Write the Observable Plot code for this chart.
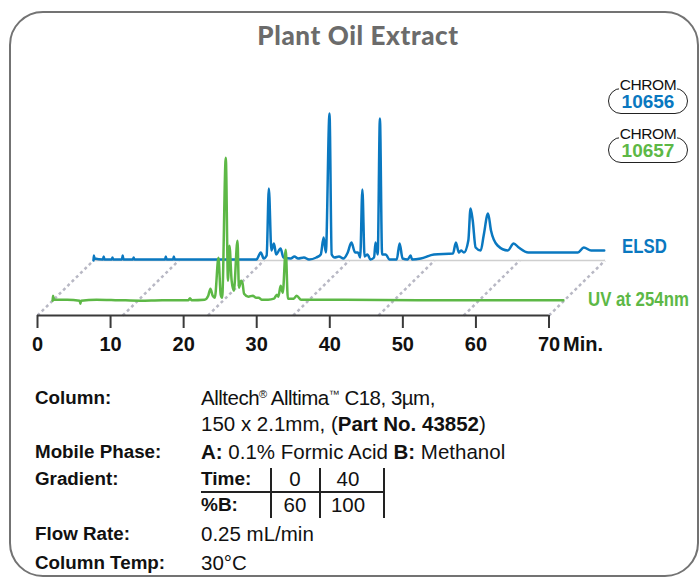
<!DOCTYPE html>
<html>
<head>
<meta charset="utf-8">
<script src="https://cdn.jsdelivr.net/npm/d3@7"></script>
<script src="https://cdn.jsdelivr.net/npm/@observablehq/plot@0.6"></script>
<style>
  html, body { margin: 0; padding: 0; background: #fff; }
  #wrap { position: relative; width: 700px; height: 579px; overflow: hidden; background: #fff; font-family: "Liberation Sans", Arial, Helvetica, sans-serif; }
  .frame { position: absolute; left: 9px; top: 11px; width: 690px; height: 566px; box-sizing: border-box; border: 2px solid #737373; border-radius: 34px; }
  .title { position: absolute; left: 0; top: 19px; width: 716px; text-align: center; font-family: Lato, "Open Sans", sans-serif; font-weight: 900; font-size: 26px; letter-spacing: 0.6px; color: #6b6b6b; }
  .badge { position: absolute; left: 608px; width: 80px; height: 26px; box-sizing: border-box; border: 1.5px solid #222; border-radius: 14px; }
  .badge .chrom { position: absolute; left: 0; right: 0; top: -11.5px; text-align: center; line-height: 14px; }
  .badge .chrom span { background: #fff; padding: 0 1px; font-size: 15.5px; color: #111; letter-spacing: -0.4px; }
  .badge .num { position: absolute; left: 0; right: 0; top: 4.8px; text-align: center; font-weight: bold; font-size: 19px; line-height: 16px; }
  .lab { position: absolute; font-weight: bold; font-size: 21px; line-height: 21px; transform: scaleX(0.8); transform-origin: 0 0; white-space: nowrap; }
  #chart { position: absolute; left: 0; top: 80px; }
  #chart svg text { font-family: "Liberation Sans", Arial, sans-serif; font-weight: bold; }
  .info { position: absolute; line-height: 20px; color: #111; white-space: nowrap; }
  .k { left: 35px; font-weight: bold; font-size: 18.8px; }
  .v { left: 201px; font-size: 20.5px; }
  .c { font-size: 20.5px; text-align: center; }
  .info b { font-weight: bold; }
  sup { font-size: 11px; vertical-align: 7px; line-height: 0; }
  .gline { position: absolute; background: #222; }
</style>
</head>
<body>
<div id="wrap">
  <div class="frame"></div>
  <div class="title">Plant Oil Extract</div>

  <div class="badge" style="top:88px"><div class="chrom"><span>CHROM</span></div><div class="num" style="color:#0a78c0">10656</div></div>
  <div class="badge" style="top:137px"><div class="chrom"><span>CHROM</span></div><div class="num" style="color:#5db846">10657</div></div>

  <div id="chart"></div>

  <div class="lab" style="left:622px; top:235px; color:#0a78c0">ELSD</div>
  <div class="lab" style="left:588px; top:288px; color:#5db846">UV at 254nm</div>

  <div class="info k" style="top:388px">Column:</div>
  <div class="info v" style="top:388px; letter-spacing:-0.5px">Alltech<sup>®</sup> Alltima<sup>™</sup> C18, 3µm,</div>
  <div class="info v" style="top:414px">150 x 2.1mm, (<b>Part No. 43852</b>)</div>
  <div class="info k" style="top:442px">Mobile Phase:</div>
  <div class="info v" style="top:442px"><b>A:</b> 0.1% Formic Acid <b>B:</b> Methanol</div>
  <div class="info k" style="top:469px">Gradient:</div>
  <div class="info v" style="top:469px; font-weight:bold; font-size:19px">Time:</div>
  <div class="info c" style="top:469px; left:271px; width:48px">0</div>
  <div class="info c" style="top:469px; left:320px; width:56px">40</div>
  <div class="info v" style="top:495px; font-weight:bold; font-size:19px">%B:</div>
  <div class="info c" style="top:495px; left:271px; width:48px">60</div>
  <div class="info c" style="top:495px; left:320px; width:56px">100</div>
  <div class="gline" style="left:201px; top:491px; width:183px; height:1.5px"></div>
  <div class="gline" style="left:270px; top:468px; width:1.5px; height:50px"></div>
  <div class="gline" style="left:319px; top:468px; width:1.5px; height:50px"></div>
  <div class="gline" style="left:383px; top:468px; width:1.5px; height:50px"></div>
  <div class="info k" style="top:524px">Flow Rate:</div>
  <div class="info v" style="top:524px">0.25 mL/min</div>
  <div class="info k" style="top:553px">Column Temp:</div>
  <div class="info v" style="top:553px">30°C</div>
</div>
<script>
// ELSD trace (time in min, signal height)
const elsdTime = [0, 0.05, 0.15, 1.3, 1.4, 1.5, 2.5, 2.6, 2.7, 3.9, 4.0, 4.1, 5.4, 5.5, 5.6, 9.8, 9.9, 10.0, 10.9, 11.0, 11.1,
  22.3, 22.9, 23.3, 23.7, 24.0, 24.35, 24.7, 25.0, 25.6, 26.0, 27.0, 27.5, 28.0, 28.8, 29.5, 30.5, 31.1, 31.5, 31.8, 32.3, 32.6,
  33.0, 33.6, 34.2, 34.8, 35.3, 35.8, 36.2, 36.5, 36.8, 37.1, 37.5, 37.9, 38.4, 38.6, 38.9, 39.2, 39.5, 40.0, 40.5, 41.5, 41.9,
  42.3, 43.0, 43.4, 43.6, 44.8, 46.6, 49.2, 49.6, 50.0, 50.3, 50.7, 51.3, 51.6, 51.9, 52.3, 53.0, 53.4, 54.0, 54.4, 55.3, 56.7,
  57.5, 58.2, 59.5, 64.0, 66.3, 67.1, 68.1, 69.9];
const elsdSignal = [0, 5, 2, 1, 4, 1, 1, 3, 1, 1, 5, 1, 1, 3, 1, 1, 4, 1, 1, 4, 1,
  1, 8, 2, 5, 72, 10, 17, 6, 12, 3, 2, 4, 2, 3, 1, 3, 6, 23, 8, 147, 6,
  3, 4, 2, 8, 18, 8, 8, 3, 71, 4, 6, 1, 3, 18, 6, 142, 6, 6, 1, 1, 17,
  2, 1, 5, 1, 2, 6, 7, 18, 8, 10, 8, 20, 52, 40, 13, 10, 25, 47, 30, 15, 10,
  17, 13, 8, 8, 8, 13, 10, 10];

// UV at 254 nm trace
const uvTime = [0, 0.05, 0.2, 2.0, 3.7, 3.8, 3.9, 6, 9, 12, 15, 18.6, 18.8, 19.0, 20.8, 21.3, 21.6, 21.9, 22.2, 22.7, 23.0, 23.2,
  23.7, 24.0, 24.2, 24.5, 24.8, 25.3, 25.5, 25.8, 26.0, 26.2, 26.8, 27.4, 27.8, 28.2, 28.6, 29.5, 30.3, 30.7, 30.9, 31.2, 31.5,
  31.9, 32.2, 33.0, 33.4, 34.0, 40, 50, 60, 69.9];
const uvSignal = [0, 5, 1, 1, 0, -3, 0, 1, 0.5, 0, 0.5, 0.5, 2.5, 0.5, 1, 5, 12, 5, 3, 43, 6, 3,
  143, 20, 55, 20, 10, 60, 13, 20, 17, 7, 4, 5, 3, 3, 1, 1, 2, 6, 4, 15, 8,
  51, 2, 2, 5, 1, 1, 0.5, 0.5, 0.5];

const xTicks = [0, 10, 20, 30, 40, 50, 60, 70];
const floorLines = [0, 11.67, 23.33, 35, 46.67, 58.33, 70];

// depth offset of the back trace (min, signal units) and relative depth of the front trace
const DEPTH_T = 7.66, DEPTH_H = 55, UV_DEPTH = 0.27;

const elsd = elsdTime.map((t, i) => ({t, v: elsdSignal[i]}));
const uv = uvTime.map((t, i) => ({t, v: uvSignal[i]}));

const chart = Plot.plot({
  width: 700,
  height: 290,
  marginLeft: 37,
  marginRight: 151.5,
  marginTop: 85,
  marginBottom: 55,
  x: {domain: [0, 70]},
  y: {domain: [0, 150], axis: null},
  marks: [
    Plot.link(floorLines, {x1: d => d, y1: 0, x2: d => d + DEPTH_T, y2: DEPTH_H,
      stroke: "#b8b8c4", strokeWidth: 2.5, strokeDasharray: "3,3"}),
    Plot.link([0], {x1: DEPTH_T, x2: 70 + DEPTH_T, y1: DEPTH_H, y2: DEPTH_H, stroke: "#cfcfcf", strokeWidth: 1.5}),
    Plot.line(elsd, {x: d => d.t + DEPTH_T, y: d => d.v + DEPTH_H, stroke: "#0a78c0", strokeWidth: 2.5, curve: "monotone-x", strokeLinejoin: "round"}),
    Plot.line(uv, {x: d => d.t + DEPTH_T * UV_DEPTH, y: d => d.v + DEPTH_H * UV_DEPTH, stroke: "#5db846", strokeWidth: 2.5, curve: "monotone-x", strokeLinejoin: "round"}),
    Plot.ruleY([0], {stroke: "#3a3a3a", strokeWidth: 2}),
    Plot.axisX({ticks: xTicks, tickSize: 13, tickPadding: 8, stroke: "#3a3a3a", strokeWidth: 2, fontSize: 20, fill: "#111", label: null, tickFormat: d => String(d)}),
    Plot.text(["Min."], {x: 70, y: 0, dx: 14, dy: 29.5, textAnchor: "start", fontSize: 20, fill: "#111"})
  ]
});
document.getElementById("chart").appendChild(chart);
</script>
</body>
</html>
